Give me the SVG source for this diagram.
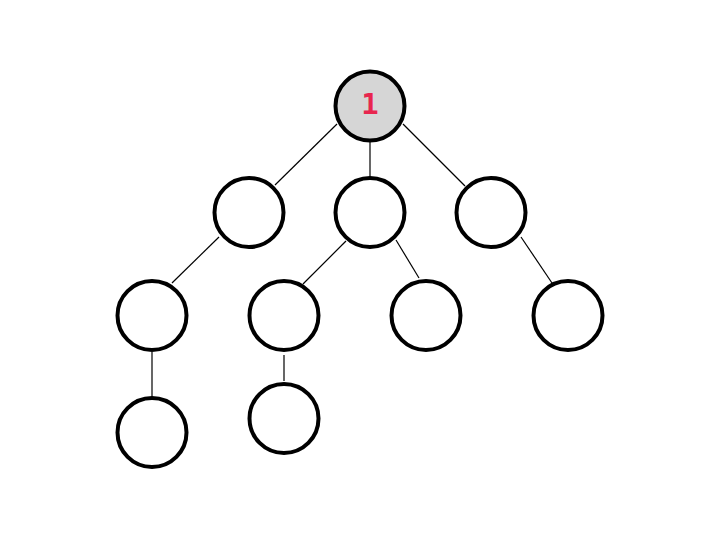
<svg xmlns="http://www.w3.org/2000/svg" width="720" height="540" viewBox="0 0 720 540">
<style>
.n{fill:#fff;stroke:#000;stroke-width:4}
.r{fill:#d6d6d6}
.e line{stroke:#000;stroke-width:1.2}
.t{font-family:"DejaVu Sans Mono",monospace;font-weight:bold;font-size:29px;fill:#e8264f;text-anchor:middle}
</style>
<rect width="720" height="540" fill="#fff"/>
<g id="connectors" class="e">
<line x1="337" y1="124" x2="275" y2="185"/>
<line x1="370" y1="142" x2="370" y2="177"/>
<line x1="403" y1="124" x2="465" y2="186"/>
<line x1="219" y1="237" x2="172" y2="283"/>
<line x1="346" y1="241" x2="303" y2="284"/>
<line x1="396" y1="240" x2="419" y2="278"/>
<line x1="521" y1="237" x2="552" y2="283"/>
<line x1="152" y1="352" x2="152" y2="397"/>
<line x1="284" y1="355" x2="284" y2="381"/>
</g>
<g id="n1"><circle class="n r" cx="370" cy="106" r="34.5"/><text class="t" x="370" y="114">1</text></g>
<g id="n2"><circle class="n" cx="249" cy="212.5" r="34.5"/></g>
<g id="n3"><circle class="n" cx="370" cy="212.5" r="34.5"/></g>
<g id="n4"><circle class="n" cx="491" cy="212.5" r="34.5"/></g>
<g id="n5"><circle class="n" cx="152" cy="315.5" r="34.5"/></g>
<g id="n6"><circle class="n" cx="284" cy="315.5" r="34.5"/></g>
<g id="n7"><circle class="n" cx="426" cy="315.5" r="34.5"/></g>
<g id="n8"><circle class="n" cx="568" cy="315.5" r="34.5"/></g>
<g id="n9"><circle class="n" cx="152" cy="432.5" r="34.5"/></g>
<g id="n10"><circle class="n" cx="284" cy="418.5" r="34.5"/></g>
</svg>
